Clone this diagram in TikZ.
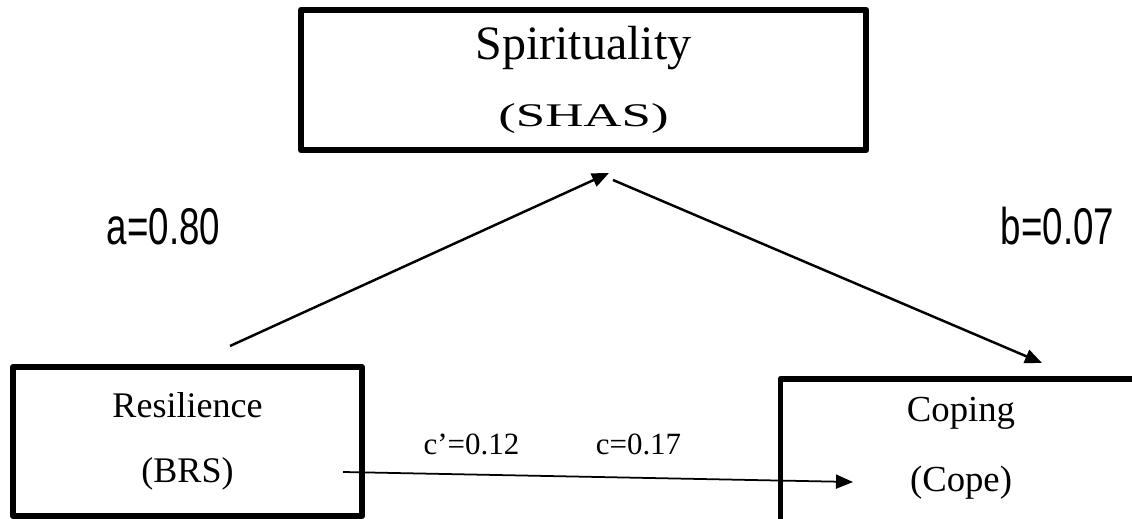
\documentclass[tikz,border=0pt]{standalone}
\usepackage{fontspec}
\setmainfont{Liberation Serif}
\newfontfamily\narrowsans{Liberation Sans}
\usepackage{graphicx}
\usetikzlibrary{arrows.meta,calc}

\tikzset{
  frame/.style={draw,line width=3.4pt,rectangle,outer sep=0pt,inner sep=0pt},
  boxtext/.style={align=center,font=\fontsize{20.5}{37}\selectfont},
  path arrow/.style={line width=1.4pt,-{Triangle[length=3.4mm,width=2.8mm]}},
  coef/.style={anchor=base,font=\fontsize{17.6}{20}\selectfont},
  bigcoef/.style={anchor=base,font=\narrowsans\fontsize{29.4}{32}\selectfont}
}

\begin{document}
\begin{tikzpicture}[x=0.02cm,y=-0.02cm,line join=round]
\path[use as bounding box] (0,0) rectangle (1132,519);
\clip (0,0) rectangle (1132,519);
\node[frame,boxtext,font=\fontsize{27.3}{38}\selectfont,minimum width=11.32cm,minimum height=2.8cm] (spir) at (583.5,80)
	{Spirituality\\{\fontsize{18.8}{38}\selectfont\scalebox{1.6}[1]{(SHAS)}}};
\node[frame,boxtext,minimum width=6.98cm,minimum height=2.98cm] (res) at (187.5,441.5) {Resilience\\(BRS)};
\node[frame,minimum width=8cm,minimum height=3.4cm,anchor=north west] (copbox) at (780.5,379) {};
\node[boxtext,font=\fontsize{20.9}{39.8}\selectfont] (cop) at (961,448.5) {Coping\\(Cope)};
\coordinate (a0) at (230,346);
\coordinate (a1) at (609,173);
\coordinate (b0) at (613,180);
\coordinate (b1) at (1042,363);
\coordinate (c0) at (343,472);
\coordinate (c1) at (853,482);
\draw[path arrow] (a0) -- (a1);
\draw[path arrow] (b0) -- (b1);
\draw[path arrow,line width=1pt] (c0) -- (c1);
\foreach \pos/\nom/\txt in {(163.5,245)/acoef/{a=0.80}, (1057.5,245)/bcoef/{b=0.07}}
	{\node[bigcoef] (\nom) at \pos {\scalebox{0.71}[1]{\txt}};}
\node[coef] (cprime) at (471.5,455) {c’=0.12};
\node[coef] (ctotal) at (638.5,455) {c=0.17};
\end{tikzpicture}
\end{document}
